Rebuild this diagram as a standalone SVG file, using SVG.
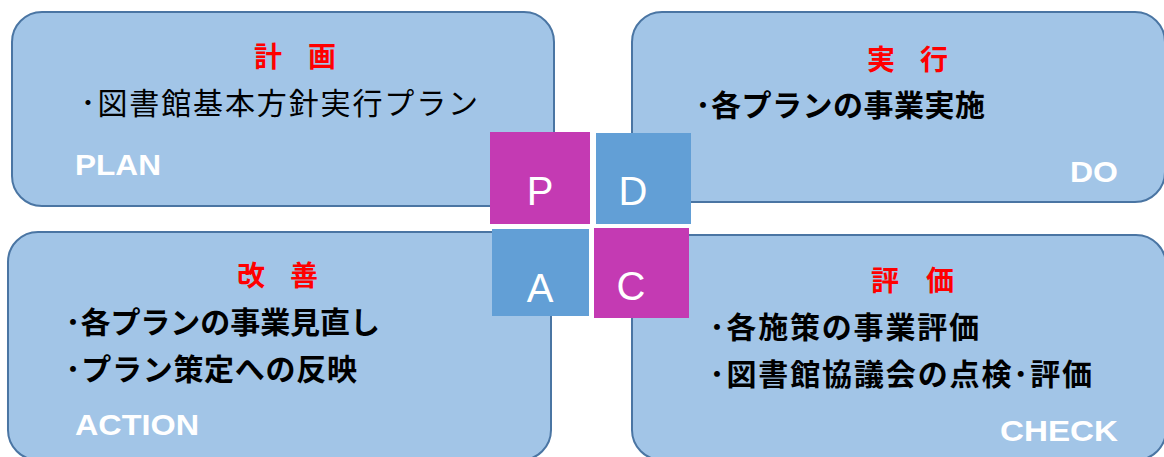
<svg xmlns="http://www.w3.org/2000/svg" width="1164" height="457" viewBox="0 0 1164 457">
<style>
.box{fill:#A2C5E7;stroke:#4A75A3;stroke-width:2}
.sqM{fill:#C43AB3}
.sqB{fill:#629FD6}
.ttl{font-family:"Noto Sans CJK JP",sans-serif;font-size:28px;font-weight:bold;fill:#FF0000}
.body{font-family:"Noto Sans CJK JP",sans-serif;font-size:30px;font-weight:bold;fill:#000}
.thin{font-weight:normal}
.en{font-family:"Liberation Sans",Arial,sans-serif;font-size:30px;font-weight:bold;fill:#fff}
.big{font-family:"Liberation Sans",Arial,sans-serif;font-size:40px;fill:#fff;text-anchor:middle}
</style>
<g id="plan">
<rect class="box" x="12" y="12" width="542" height="194" rx="30" ry="30"/>
<text class="ttl" x="254" y="67" textLength="82" lengthAdjust="spacing">計　画</text>
<text class="body thin" x="80.5" y="114" textLength="397.5" lengthAdjust="spacing">･図書館基本方針実行プラン</text>
<text class="en" x="75" y="175" textLength="86" lengthAdjust="spacingAndGlyphs">PLAN</text>
</g>
<g id="do">
<rect class="box" x="632" y="12" width="533" height="190" rx="30" ry="30"/>
<text class="ttl" x="867" y="70" textLength="81" lengthAdjust="spacing">実　行</text>
<text class="body" x="695.5" y="116" textLength="289.5" lengthAdjust="spacing">･各プランの事業実施</text>
<text class="en" x="1070" y="182" textLength="48" lengthAdjust="spacingAndGlyphs">DO</text>
</g>
<g id="action">
<rect class="box" x="8" y="232" width="543" height="228" rx="30" ry="30"/>
<text class="ttl" x="237" y="286" textLength="81" lengthAdjust="spacing">改　善</text>
<text class="body" x="65.5" y="333" textLength="314.5" lengthAdjust="spacing">･各プランの事業見直し</text>
<text class="body" x="65.5" y="380" textLength="291.5" lengthAdjust="spacing">･プラン策定への反映</text>
<text class="en" x="75" y="435" textLength="124" lengthAdjust="spacingAndGlyphs">ACTION</text>
</g>
<g id="check">
<rect class="box" x="632" y="235" width="534" height="225" rx="30" ry="30"/>
<text class="ttl" x="871" y="291" textLength="83" lengthAdjust="spacing">評　価</text>
<text class="body" x="709.5" y="338" textLength="269.5" lengthAdjust="spacing">･各施策の事業評価</text>
<text class="body" x="709.5" y="385" textLength="382.5" lengthAdjust="spacing">･図書館協議会の点検･評価</text>
<text class="en" x="1000" y="441" textLength="118" lengthAdjust="spacingAndGlyphs">CHECK</text>
</g>
<g id="pdca">
<g id="sq-p"><rect class="sqM" x="490" y="132" width="100" height="92"/><text class="big" x="540" y="205">P</text></g>
<g id="sq-d"><rect class="sqB" x="596" y="133" width="95" height="91"/><text class="big" x="633" y="205">D</text></g>
<g id="sq-a"><rect class="sqB" x="492" y="229" width="97" height="87"/><text class="big" x="540" y="302">A</text></g>
<g id="sq-c"><rect class="sqM" x="594" y="228" width="95" height="90"/><text class="big" x="631" y="300">C</text></g>
</g>
<g id="connectors"/>
</svg>
